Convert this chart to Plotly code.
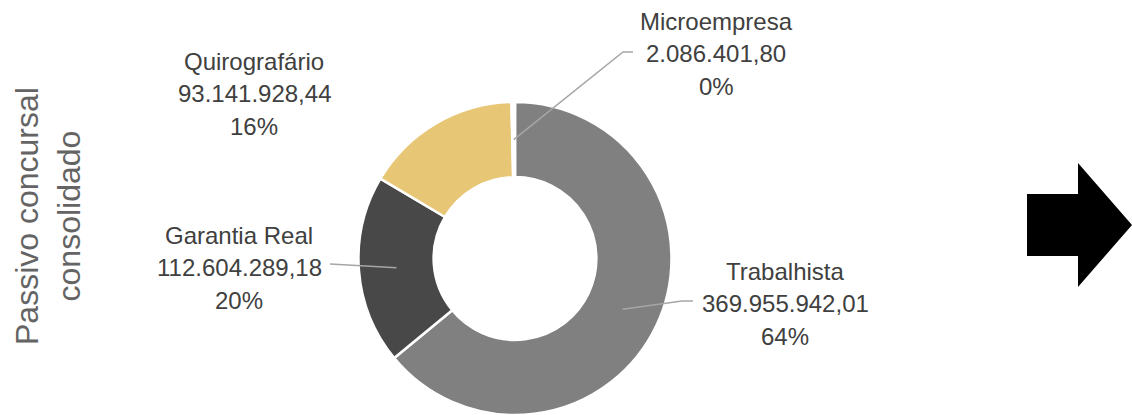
import math
import plotly.graph_objects as go

# ---- data ----
categories = ["Trabalhista", "Garantia Real", "Quirografário", "Microempresa"]
values = [369955942.01, 112604289.18, 93141928.44, 2086401.80]
pct_labels = ["64%", "20%", "16%", "0%"]
colors = ["#808080", "#484848", "#E7C675", "#FFFFFF"]

title_lines = ["Passivo concursal", "consolidado"]

# ---- layout constants (pixels) ----
W, H = 1132, 415
CX, CY, R = 515.0, 258.5, 156.5
HOLE = 0.52
TEXT_COLOR = "#404040"
LINE_COLOR = "#A6A6A6"
FONT = "Liberation Sans, Arial, sans-serif"
LINE_GAP = 32.5

# label placement: (center x, first-line y, leader path after the slice point)
label_layout = {
    "Trabalhista": (785, 271, [(682, 301), (693, 301)]),
    "Garantia Real": (239, 235, [(330, 264)]),
    "Quirografário": (254, 61, None),
    "Microempresa": (716, 21, [(623, 52), (633, 52)]),
}


def fmt_br(v):
    s = f"{v:,.2f}"
    return s.replace(",", "#").replace(".", ",").replace("#", ".")


total = sum(values)

fig = go.Figure()
fig.add_trace(go.Pie(
    labels=categories,
    values=values,
    hole=HOLE,
    sort=False,
    direction="clockwise",
    rotation=0,
    marker=dict(colors=colors, line=dict(color="#FFFFFF", width=2.5)),
    textinfo="none",
    hoverinfo="label+value+percent",
    showlegend=False,
    domain=dict(x=[(CX - R) / W, (CX + R) / W],
                y=[max(0, (H - CY - R) / H), (H - CY + R) / H]),
))

# invisible pixel axes for overlays
fig.add_trace(go.Scatter(x=[0, W], y=[0, H], mode="markers",
                         marker=dict(opacity=0), hoverinfo="skip", showlegend=False))

annotations = []
shapes = []
cum = 0.0
mid_r = R * (1 + HOLE) / 2
for cat, v, pct in zip(categories, values, pct_labels):
    frac = v / total
    mid = (cum + frac / 2) * 2 * math.pi
    cum += frac
    lx, ly, path = label_layout[cat]
    lines = [cat, fmt_br(v), pct]
    for i, t in enumerate(lines):
        annotations.append(dict(
            x=lx, y=ly + i * LINE_GAP, xref="x", yref="y", text=t,
            showarrow=False, xanchor="center", yanchor="middle",
            font=dict(family=FONT, size=24, color=TEXT_COLOR)))
    if path:
        sx = CX + mid_r * math.sin(mid)
        sy = CY - mid_r * math.cos(mid)
        pts = [(sx, sy)] + path
        d = "M " + " L ".join(f"{px:.1f},{py:.1f}" for px, py in pts)
        shapes.append(dict(type="path", path=d, xref="x", yref="y", layer="above",
                           line=dict(color=LINE_COLOR, width=1.5)))

# vertical title
annotations.append(dict(
    x=48, y=216, xref="x", yref="y", text="<br>".join(title_lines),
    textangle=-90, showarrow=False, xanchor="center", yanchor="middle", align="center",
    font=dict(family=FONT, size=32, color="#646464")))

# block arrow
shapes.append(dict(
    type="path", xref="x", yref="y", layer="above",
    path="M 1027,194 L 1078,194 L 1078,163 L 1132,225 L 1078,287 L 1078,256 L 1027,256 Z",
    fillcolor="#000000", line=dict(width=0)))

fig.update_layout(
    width=W, height=H,
    margin=dict(l=0, r=0, t=0, b=0),
    paper_bgcolor="#FFFFFF", plot_bgcolor="rgba(0,0,0,0)",
    xaxis=dict(range=[0, W], visible=False, fixedrange=True, domain=[0, 1]),
    yaxis=dict(range=[H, 0], visible=False, fixedrange=True, domain=[0, 1]),
    annotations=annotations,
    shapes=shapes,
)

fig.write_html("out.html", config={"displayModeBar": False},
               post_script="document.body.style.margin='0';document.body.style.overflow='hidden';")
